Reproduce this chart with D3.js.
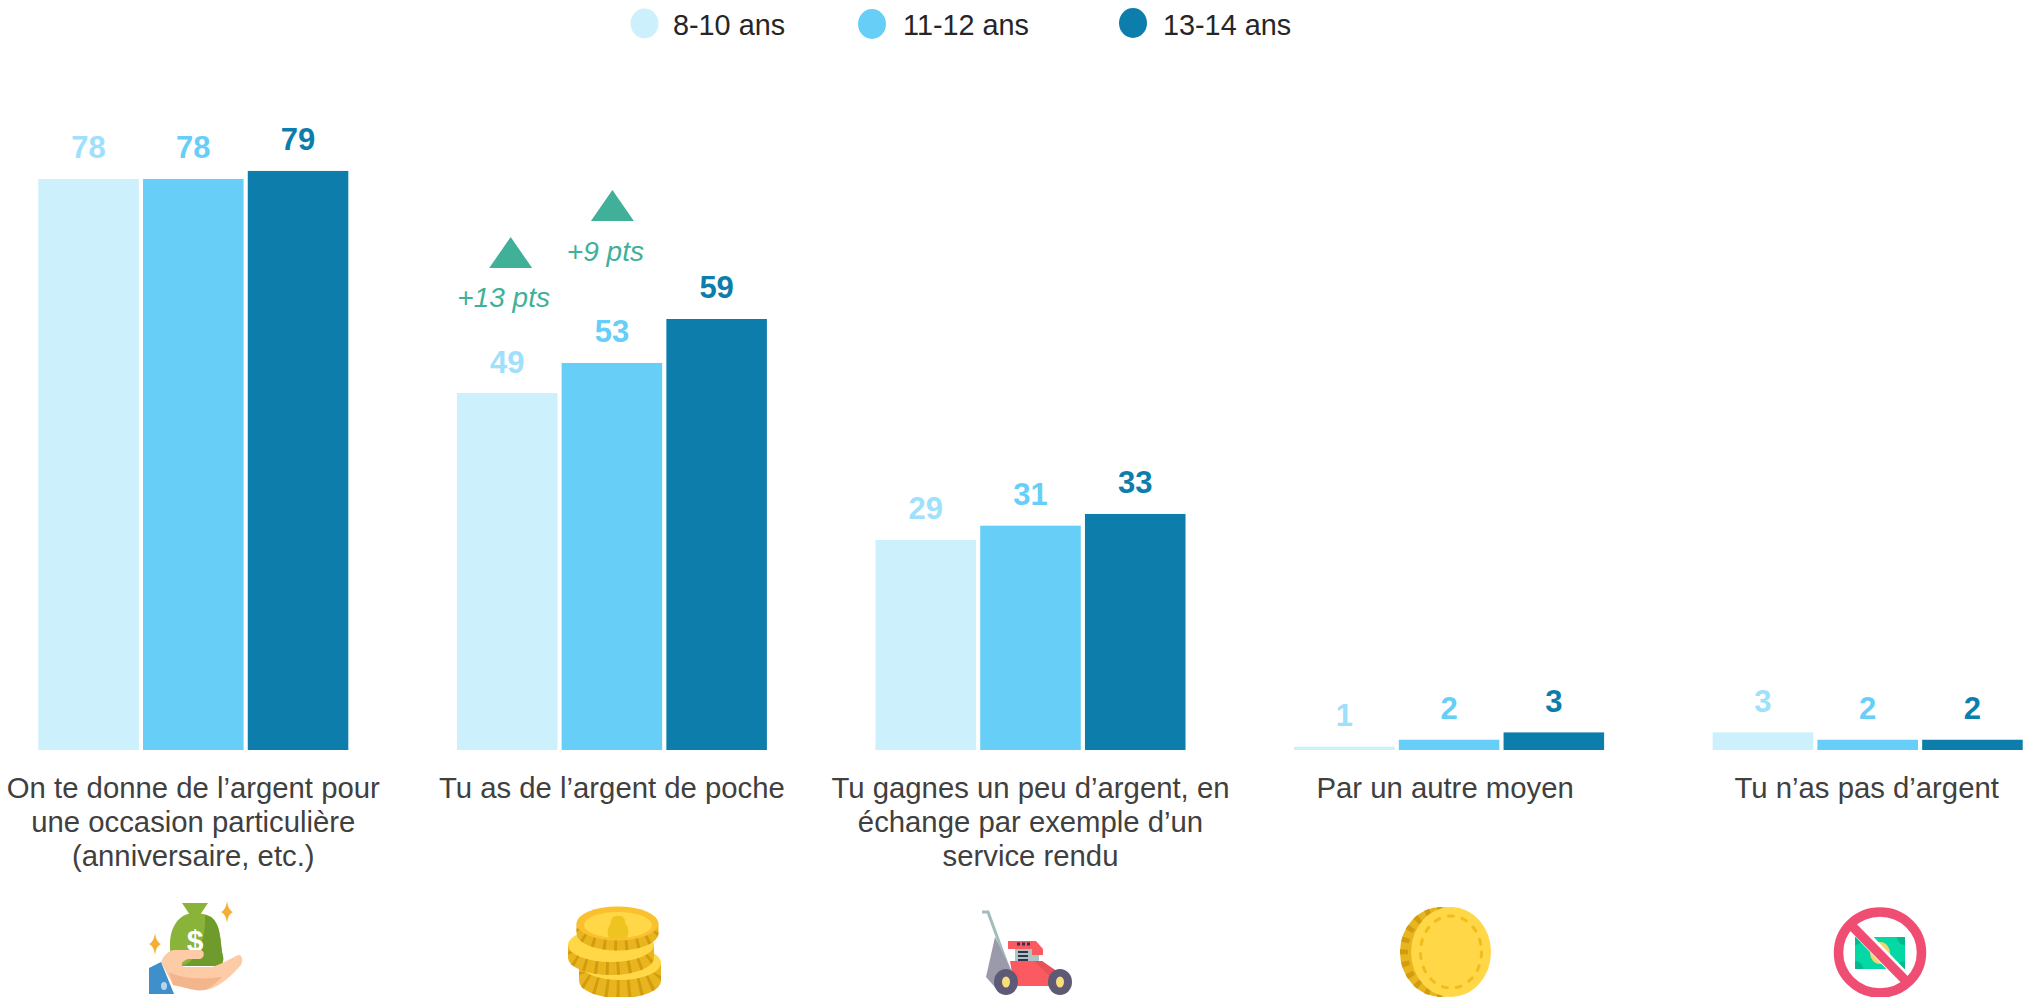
<!DOCTYPE html>
<html lang="fr"><head><meta charset="utf-8">
<script src="https://cdn.jsdelivr.net/npm/d3@7"></script>
<style>html,body{margin:0;padding:0;background:#fff;overflow:hidden}svg{display:block}text{font-family:"Liberation Sans",Arial,sans-serif}</style>
</head><body><svg id="c" width="2023" height="997"></svg>
<script>
const categories = ["On te donne de l’argent pour une occasion particulière (anniversaire, etc.)","Tu as de l’argent de poche","Tu gagnes un peu d’argent, en échange par exemple d’un service rendu","Par un autre moyen","Tu n’as pas d’argent"];
const categoryLines = [["On te donne de l’argent pour","une occasion particulière","(anniversaire, etc.)"],["Tu as de l’argent de poche"],["Tu gagnes un peu d’argent, en","échange par exemple d’un","service rendu"],["Par un autre moyen"],["Tu n’as pas d’argent"]];
const ages = ["8-10 ans","11-12 ans","13-14 ans"];
// printed labels
const label8to10 = [78,49,29,1,3];
const label11to12 = [78,53,31,2,2];
const label13to14 = [79,59,33,3,2];
// bar heights (unrounded values behind the labels)
const bar8to10 = [77.9,48.7,28.65,0.45,2.4];
const bar11to12 = [77.9,52.8,30.6,1.4,1.4];
const bar13to14 = [79,58.8,32.2,2.4,1.4];
const labels = [label8to10,label11to12,label13to14];
const bars = [bar8to10,bar11to12,bar13to14];
const barColors = ["#ccf0fc","#66cef7","#0d7dab"];
const labelColors = ["#9fe0fb","#66cef7","#0d7dab"];
const green = "#40b098";
const annotations = [{cat:1,age:0,text:"+13 pts",tri:3.5,txt:-3.5,gap:125,tGap:39},{cat:1,age:1,text:"+9 pts",tri:0.5,txt:-6.5,gap:142,tGap:40}];

const svg = d3.select("#c");
const x0 = d3.scaleBand().domain(categories).range([38.3,2022.7]).paddingInner(0.2594).paddingOuter(0);
const x1 = d3.scaleBand().domain(ages).range([0,x0.bandwidth()]).paddingInner(0.04).paddingOuter(0);
const y = d3.scaleLinear().domain([0,80]).range([750,750-7.33*80]);

// legend
const legendX = [644.5,872,1133], legendY=[23.5,24,23], legendTextX=[673,903,1163];
const lg = svg.append("g").selectAll("g").data(ages).join("g");
lg.append("ellipse").attr("cx",(d,i)=>legendX[i]).attr("cy",(d,i)=>legendY[i]).attr("rx",14).attr("ry",15).attr("fill",(d,i)=>barColors[i]);
lg.append("text").attr("x",(d,i)=>legendTextX[i]).attr("y",34.5).attr("font-size",28.8).attr("fill","#262626").text(d=>d);

// bars
const groups = svg.append("g").selectAll("g").data(categories).join("g").attr("transform",d=>`translate(${x0(d)},0)`);
ages.forEach((a,s)=>{
  groups.append("rect").attr("x",x1(a)).attr("width",x1.bandwidth())
    .attr("y",(d,i)=>y(bars[s][i])).attr("height",(d,i)=>y(0)-y(bars[s][i])).attr("fill",barColors[s]);
  groups.append("text").attr("x",x1(a)+x1.bandwidth()/2).attr("y",(d,i)=>y(bars[s][i])-20.5)
    .attr("text-anchor","middle").attr("font-weight","bold").attr("font-size",31).attr("fill",labelColors[s])
    .text((d,i)=>labels[s][i]);
});

// category labels
const catG = svg.append("g").selectAll("text").data(categories).join("text")
  .attr("text-anchor","middle").attr("font-size",29.3).attr("fill","#404040");
const catShift=[0,0,0,-4,-1];
catG.each(function(d,i){
  const cx = x0(d)+x0.bandwidth()/2+catShift[i];
  d3.select(this).selectAll("tspan").data(categoryLines[i]).join("tspan")
    .attr("x",cx).attr("y",(l,k)=>798+k*34.2).text(l=>l);
});

// annotations
annotations.forEach(an=>{
  const a = ages[an.age], c = categories[an.cat];
  const cx = x0(c)+x1(a)+x1.bandwidth()/2;
  const base = y(bars[an.age][an.cat]) - an.gap;
  const t = cx+an.tri;
  svg.append("path").attr("d",`M${t},${base-31}L${t+21.5},${base}L${t-21.5},${base}Z`).attr("fill",green);
  svg.append("text").attr("x",cx+an.txt).attr("y",base+an.tGap).attr("text-anchor","middle")
    .attr("font-style","italic").attr("font-size",28).attr("fill",green).text(an.text);
});

// icons
const ic = svg.append("g");
function P(g,d,f){return g.append("path").attr("d",d).attr("fill",f);}
function E(g,cx,cy,rx,ry,f){return g.append("ellipse").attr("cx",cx).attr("cy",cy).attr("rx",rx).attr("ry",ry).attr("fill",f);}
function star(g,cx,cy,rx,ry,f){P(g,`M${cx},${cy-ry}Q${cx+1},${cy-2} ${cx+rx},${cy}Q${cx+1},${cy+2} ${cx},${cy+ry}Q${cx-1},${cy+2} ${cx-rx},${cy}Q${cx-1},${cy-2} ${cx},${cy-ry}Z`,f);}
// bag
P(ic,"M182,903H208L200,915H190Z","#8ab33a");
P(ic,"M195,913C178,913 170,928 170,945C170,955 171,962 176,966H218C222,966 224,962 223,956C220,945 222,925 211,917C206,914 200,913 195,913Z","#8ab33a");
P(ic,"M211,917C222,925 220,945 223,956C224,962 222,966 218,966H182C200,960 206,935 205,915Z","#6f9b2c");
ic.append("text").attr("x",195).attr("y",951).attr("text-anchor","middle").attr("font-size",30).attr("font-weight","bold").attr("fill","#fff").text("$");
star(ic,227,912,6,11,"#f5ae33"); star(ic,155,944,6,11,"#f5ae33");
P(ic,"M173,985L161,962C164,955 168,951 174,950H200C205,950 205,958 200,959H188C180,962 180,967 186,967H212C222,964 232,958 238,955C243,954 243,962 241,965C232,975 222,985 210,989C198,992 185,987 173,985Z","#fdcba6");
P(ic,"M173,985L169,972C180,978 200,980 222,977C215,984 210,988 205,990C195,992 185,987 173,985Z","#f3b58c");
P(ic,"M149,968L161,962L174,994H149Z","#3f8fcb");
E(ic,164,986,3,4,"#b9d4e8");
// coins
const defs = svg.append("defs");
let coinId = 0;
function coin(cx,topY,rx,ry,h,cTop){
  const side = `M${cx-rx},${topY}V${topY+h}A${rx},${ry} 0 0 0 ${cx+rx},${topY+h}V${topY}Z`;
  const id = "coinclip"+(coinId++);
  defs.append("clipPath").attr("id",id).append("path").attr("d",side);
  P(ic,side,"#e8b51e");
  ic.append("path").attr("d",`M${cx-rx},${topY+h/2}A${rx},${ry} 0 0 0 ${cx+rx},${topY+h/2}`)
    .attr("clip-path",`url(#${id})`)
    .attr("fill","none").attr("stroke","#d29c10").attr("stroke-width",h+2).attr("stroke-dasharray","3 8");
  E(ic,cx,topY,rx,ry,cTop);
}
coin(620,963,41,17,18,"#ffd747");
coin(611,945,43,17,13,"#ffd747");
coin(617.5,923.5,41,17,10,"#fbc02d");
E(ic,618,925,34,13,"#ffd747");
P(ic,"M609,938C606,931 609,926 611,923C610,919 614,915 618,916C622,915 626,919 625,923C628,926 630,931 627,938C622,939 614,939 609,938Z","#f0c420");
// mower
ic.append("path").attr("d","M982,912H988L1010,972").attr("fill","none").attr("stroke","#a3bcbc").attr("stroke-width",3);
P(ic,"M995,937L986,977L1000,993L1012,972Z","#9a9aab");
P(ic,"M1015,945H1039V966H1015Z","#aec4c4");
P(ic,"M1008,941H1036L1043,949V955H1032V949H1008Z","#fb5a60");
P(ic,"M1010,961H1042L1067,982V986H1014Z","#fb5a60");
P(ic,"M1042,961L1067,978V986H1060L1034,961Z","#e8505a");
ic.append("path").attr("d","M1017,944h3M1022,944h3M1027,944h3").attr("stroke","#33334d").attr("stroke-width",3);
ic.append("path").attr("d","M1018,952h10M1018,956h10M1018,960h10").attr("stroke","#33334d").attr("stroke-width",2);
E(ic,1006,982,12,13,"#5e5a75"); E(ic,1060,982,12,13,"#5e5a75");
E(ic,1006,982,4,5.5,"#fbdc7b"); E(ic,1060,982,4,5.5,"#fbdc7b");
// single coin
E(ic,1441,952,41,45,"#e8b51e");
E(ic,1441,952,37,41,"none").attr("stroke","#d29c10").attr("stroke-width",8).attr("stroke-dasharray","5 7");
E(ic,1451,952,40,45,"#ffd747");
E(ic,1451,952,30.5,36,"none").attr("stroke","#f0bc1e").attr("stroke-width",3).attr("stroke-dasharray","5 9").attr("stroke-linecap","round");
// no money
P(ic,"M1855,937H1905V969H1855Z","#04d8a4");
P(ic,"M1855,937H1863A8,8 0 0 1 1855,945Z","#03b98d");
P(ic,"M1905,937H1897A8,8 0 0 0 1905,945Z","#03b98d");
P(ic,"M1855,969H1863A8,8 0 0 0 1855,961Z","#03b98d");
P(ic,"M1905,969H1897A8,8 0 0 1 1905,961Z","#03b98d");
E(ic,1880,953,10,11,"#fbd267");
ic.append("line").attr("x1",1853).attr("y1",925).attr("x2",1906).attr("y2",980).attr("stroke","#fff").attr("stroke-width",13);
E(ic,1880,952.5,41.5,40.5,"none").attr("stroke","#f04d73").attr("stroke-width",9.5);
ic.append("line").attr("x1",1851).attr("y1",925).attr("x2",1908).attr("y2",983).attr("stroke","#f04d73").attr("stroke-width",9.5);
</script></body></html>
